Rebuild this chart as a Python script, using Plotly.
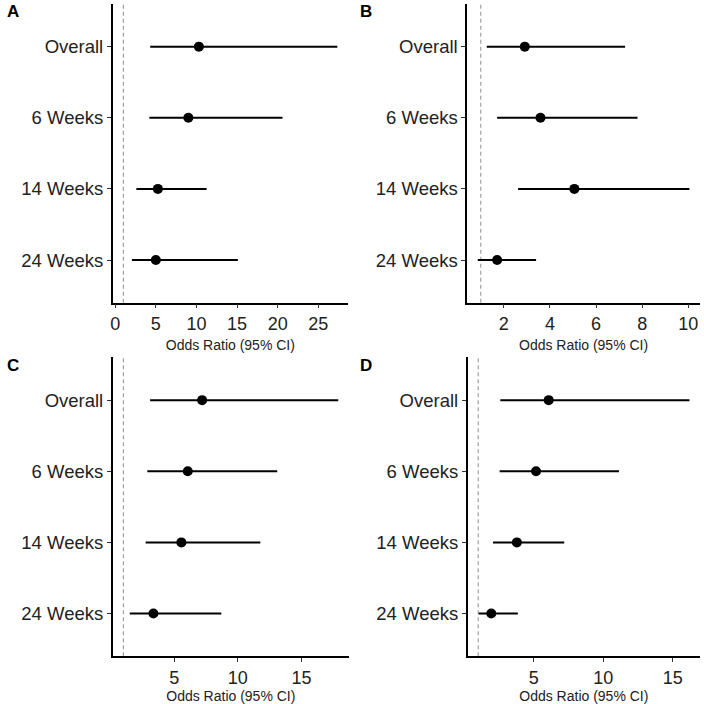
import plotly.graph_objects as go

labels = ["Overall", "6 Weeks", "14 Weeks", "24 Weeks"]

A_or = [10.3, 9.0, 5.25, 5.0]
A_lo = [4.3, 4.2, 2.6, 2.05]
A_hi = [27.35, 20.6, 11.25, 15.1]

B_or = [2.91, 3.59, 5.06, 1.71]
B_lo = [1.26, 1.71, 2.62, 0.87]
B_hi = [7.26, 7.80, 10.05, 3.40]

C_or = [7.19, 6.06, 5.56, 3.36]
C_lo = [3.1, 2.88, 2.75, 1.5]
C_hi = [17.9, 13.1, 11.77, 8.7]

D_or = [6.07, 5.16, 3.78, 1.94]
D_lo = [2.59, 2.54, 2.06, 1.03]
D_hi = [16.2, 11.13, 7.19, 3.85]

panels = [
    ("A", A_or, A_lo, A_hi, 5),
    ("B", B_or, B_lo, B_hi, 2),
    ("C", C_or, C_lo, C_hi, 5),
    ("D", D_or, D_lo, D_hi, 5),
]

ref_line = 1
W = H = 704
FONT = "Liberation Sans, Arial, Helvetica, sans-serif"

# pixel boxes (left, right, top, bottom)
boxes = [
    (111, 347, 4, 304),
    (466.5, 700, 4, 304),
    (111, 348, 359, 659),
    (467, 700, 359, 659),
]

fig = go.Figure()
layout = dict(
    width=W, height=H,
    margin=dict(l=0, r=0, t=0, b=0),
    paper_bgcolor="white", plot_bgcolor="white",
    showlegend=False,
    font=dict(family=FONT, color="black"),
)
shapes = []
annotations = []

for i, (lab, o, lo, hi, dt) in enumerate(panels):
    n = "" if i == 0 else str(i + 1)
    l, r, t, b = boxes[i]
    fig.add_trace(go.Scatter(
        x=o, y=labels, mode="markers",
        marker=dict(color="black", size=10),
        error_x=dict(type="data", symmetric=False,
                     array=[h - v for h, v in zip(hi, o)],
                     arrayminus=[v - q for v, q in zip(o, lo)],
                     color="black", thickness=2, width=0),
        xaxis="x" + n, yaxis="y" + n, hoverinfo="skip",
    ))
    xmin = min(min(lo), ref_line)
    xmax = max(max(hi), ref_line)
    pad = 0.05 * (xmax - xmin)
    layout["xaxis" + n] = dict(
        domain=[l / W, r / W], anchor="y" + n,
        range=[xmin - pad, xmax + pad],
        tick0=0, dtick=dt,
        showline=True, linecolor="black", linewidth=1.5,
        ticks="outside", ticklen=4, tickcolor="#333333", tickwidth=1,
        showgrid=False, zeroline=False,
        tickfont=dict(size=18, family=FONT, color="#222222"),
        title=dict(text="Odds Ratio (95% CI)", font=dict(size=14, family=FONT, color="#222222"), standoff=7),
    )
    layout["yaxis" + n] = dict(
        domain=[1 - b / H, 1 - t / H], anchor="x" + n,
        type="category", categoryorder="array", categoryarray=labels,
        range=[3.6, -0.6],
        showline=True, linecolor="black", linewidth=1.5,
        ticks="outside", ticklen=4, tickcolor="#333333", tickwidth=1,
        showgrid=False, zeroline=False,
        tickfont=dict(size=18.5, family=FONT, color="#222222"),
    )
    shapes.append(dict(
        type="line", xref="x" + n, yref="y" + n + " domain",
        x0=ref_line, x1=ref_line, y0=0, y1=1,
        line=dict(color="#a0a0a0", width=1.2, dash="4px,3px"),
        layer="below",
    ))
    px = 3 if i % 2 == 0 else 357
    py = 12 if i < 2 else 367
    annotations.append(dict(
        text="<b>%s</b>" % lab, x=px / W, y=1 - py / H,
        xref="paper", yref="paper", xanchor="left", yanchor="middle",
        showarrow=False, font=dict(size=17, family=FONT, color="black"),
    ))

layout["shapes"] = shapes
layout["annotations"] = annotations
fig.update_layout(**layout)
fig.write_html("out.html")
